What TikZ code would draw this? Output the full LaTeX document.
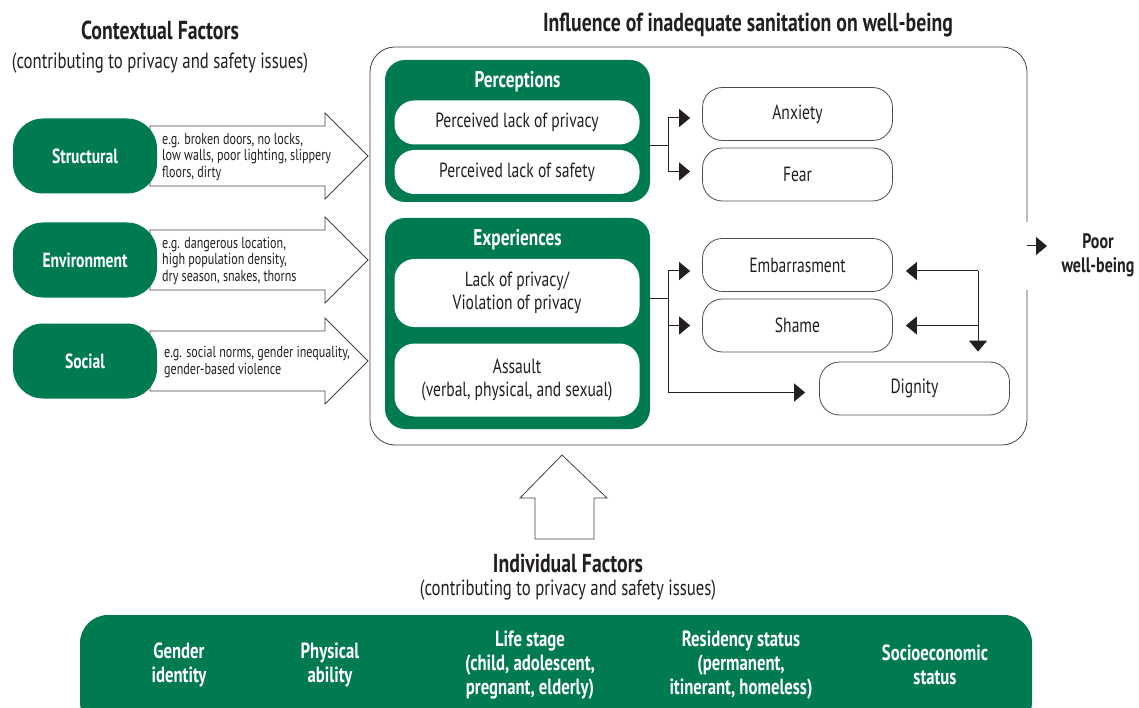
\documentclass[tikz,border=0pt]{standalone}
\usepackage{fontspec}
\setmainfont[FakeStretch=0.76]{PT Sans}
\usepackage{tikz}
\usetikzlibrary{positioning,arrows.meta,calc}

\definecolor{wgreen}{RGB}{0,122,83}
\definecolor{ink}{RGB}{35,31,32}
\newcommand{\bodyfont}{\fontsize{20.5}{23}\selectfont}
\newcommand{\headfont}{\fontsize{26}{28}\selectfont\bfseries}
\newcommand{\subfont}{\fontsize{22}{24}\selectfont}
\newcommand{\notefont}{\fontsize{15.9}{16.7}\selectfont}

\tikzset{
  group/.style={fill=wgreen, rounded corners=20pt, minimum width=265pt},
  inner/.style={fill=white, rounded corners=20pt, minimum width=245pt, font=\bodyfont, text=ink, align=center},
  outcome/.style={draw=ink!80, line width=0.8pt, rounded corners=20pt, minimum width=190pt, minimum height=53pt, font=\bodyfont, text=ink},
  factor/.style={fill=wgreen, rounded corners=30pt, minimum width=144pt, minimum height=75pt, text=white, font=\bfseries\fontsize{20.5}{22}\selectfont},
  note/.style={anchor=west, align=left, font=\notefont, text=ink, inner sep=0pt},
  flow/.style={draw=ink, line width=1pt, -{Triangle[length=11pt,width=18pt]}},
  bigarrow/.style={draw=ink!85, fill=white, line width=0.8pt},
  grouptitle/.style={text=white, font=\bfseries\fontsize{22.7}{24}\selectfont},
  individual/.style={text=white, align=center, font=\bfseries\fontsize{22}{24}\selectfont},
  heading/.style={font=\headfont, text=ink, inner sep=0pt, text height=18pt, text depth=4pt},
  subheading/.style={font=\subfont, text=ink, inner sep=0pt, text height=16pt, text depth=5pt}
}

\begin{document}
\begin{tikzpicture}[x=1pt,y=-1pt]
    \useasboundingbox (0,0) rectangle (1139,708);

    % Titles
    \node[heading] (ctitle) at (160,33) {Contextual Factors};
    \node[subheading] (csub) at (160,63) {(contributing to privacy and safety issues)};
    \node[heading] (wtitle) at (748,25) {Influence of inadequate sanitation on well-being};

    % Outer box (open on the right)
    \draw[ink!85, line width=0.8pt, rounded corners=25pt] (1027,222) -- (1027,47) -- (370,47) -- (370,445) -- (1027,445) -- (1027,290);

    % Contextual factors (left)
    \draw[bigarrow] (150,126) -- (325,126) -- (325,113) -- (368,156) -- (325,199) -- (325,186) -- (150,186) -- cycle;
    \node[factor] (structural) at (85,156) {Structural};
    \node[note] (structnote) at (162,157) {e.g. broken doors, no locks,\\low walls, poor lighting, slippery\\floors, dirty};

    \draw[bigarrow] (150,230) -- (325,230) -- (325,217) -- (368,260) -- (325,303) -- (325,290) -- (150,290) -- cycle;
    \node[factor] (environment) at (85,260) {Environment};
    \node[note] (envnote) at (162,261) {e.g. dangerous location,\\high population density,\\dry season, snakes, thorns};

    \draw[bigarrow] (150,331) -- (325,331) -- (325,318) -- (368,361) -- (325,404) -- (325,391) -- (150,391) -- cycle;
    \node[factor] (social) at (85,361) {Social};
    \node[note] (socnote) at (164,362) {e.g. social norms, gender inequality,\\gender-based violence};

    % Perceptions
    \node[group, minimum height=142pt] (percep) at (517.5,131) {};
    \node[grouptitle] (perceptitle) at (517.5,82) {Perceptions};
    \node[inner, minimum height=44pt] (privacy) at (517,122.5) {Perceived lack of privacy};
    \node[inner, minimum height=44pt] (safety) at (517,172) {Perceived lack of safety};

    % Experiences
    \node[group, minimum height=211pt] (exper) at (517.5,323.5) {};
    \node[grouptitle] (expertitle) at (517.5,240) {Experiences};
    \node[inner, minimum height=68pt] (violation) at (517,293) {Lack of privacy/\\Violation of privacy};
    \node[inner, minimum height=73pt] (assault) at (517,380) {Assault\\(verbal, physical, and sexual)};

    % Outcomes
    \node[outcome] (anxiety) at (797.5,114) {Anxiety};
    \node[outcome] (fear) at (797.5,174.5) {Fear};
    \node[outcome] (embar) at (797.5,265) {Embarrasment};
    \node[outcome] (shame) at (797.5,325.5) {Shame};
    \node[outcome] (dignity) at (914.5,388.5) {Dignity};

    % Connectors
    \coordinate (pfork) at (668,146);
    \draw[ink, line width=1pt] (percep.east |- pfork) -- (pfork);
    \draw[flow] (pfork) |- ($(anxiety.west)+(-12,4)$);
    \draw[flow] (pfork) |- ($(fear.west)+(-12,-3)$);

    \coordinate (efork) at (668,298);
    \draw[ink, line width=1pt] (exper.east |- efork) -- (efork);
    \draw[flow] (efork) |- ($(embar.west)+(-12,6)$);
    \draw[flow] (efork) |- ($(shame.west)+(-12,0)$);
    \draw[flow] (efork) |- ($(dignity.west)+(-14,4)$);

    \coordinate (loop) at (978,271);
    \draw[flow] (loop) -- ($(embar.east)+(13,6)$);
    \draw[flow] (loop |- shame) -- ($(shame.east)+(13,0)$);
    \draw[flow] (loop) -- ($(loop |- dignity.north)+(0,-10)$);

    % Poor well-being
    \node[font=\bfseries\fontsize{21}{24}\selectfont, text=ink, align=center] (poor) at (1098,255) {Poor\\well-being};
    \coordinate (exit) at (1027,246);
    \draw[flow] (exit) -- (1047,246);

    % Individual factors (bottom)
    \draw[bigarrow] (562,455) -- (607,498) -- (594,498) -- (594,539) -- (535,539) -- (535,498) -- (520,498) -- cycle;
    \node[heading] (indtitle) at (568,565) {Individual Factors};
    \node[subheading] (indsub) at (568,590) {(contributing to privacy and safety issues)};
    \fill[wgreen, rounded corners=28pt] (80,730) -- (80,615) -- (1032,615) -- (1032,730) -- cycle;
    \node[individual] (gender) at (179,665) {Gender\\identity};
    \node[individual] (ability) at (330,665) {Physical\\ability};
    \node[individual] (life) at (530,665) {Life stage\\(child, adolescent,\\pregnant, elderly)};
    \node[individual] (residency) at (741,665) {Residency status\\(permanent,\\itinerant, homeless)};
    \node[individual] (socio) at (935,665) {Socioeconomic\\status};
\end{tikzpicture}
\end{document}
